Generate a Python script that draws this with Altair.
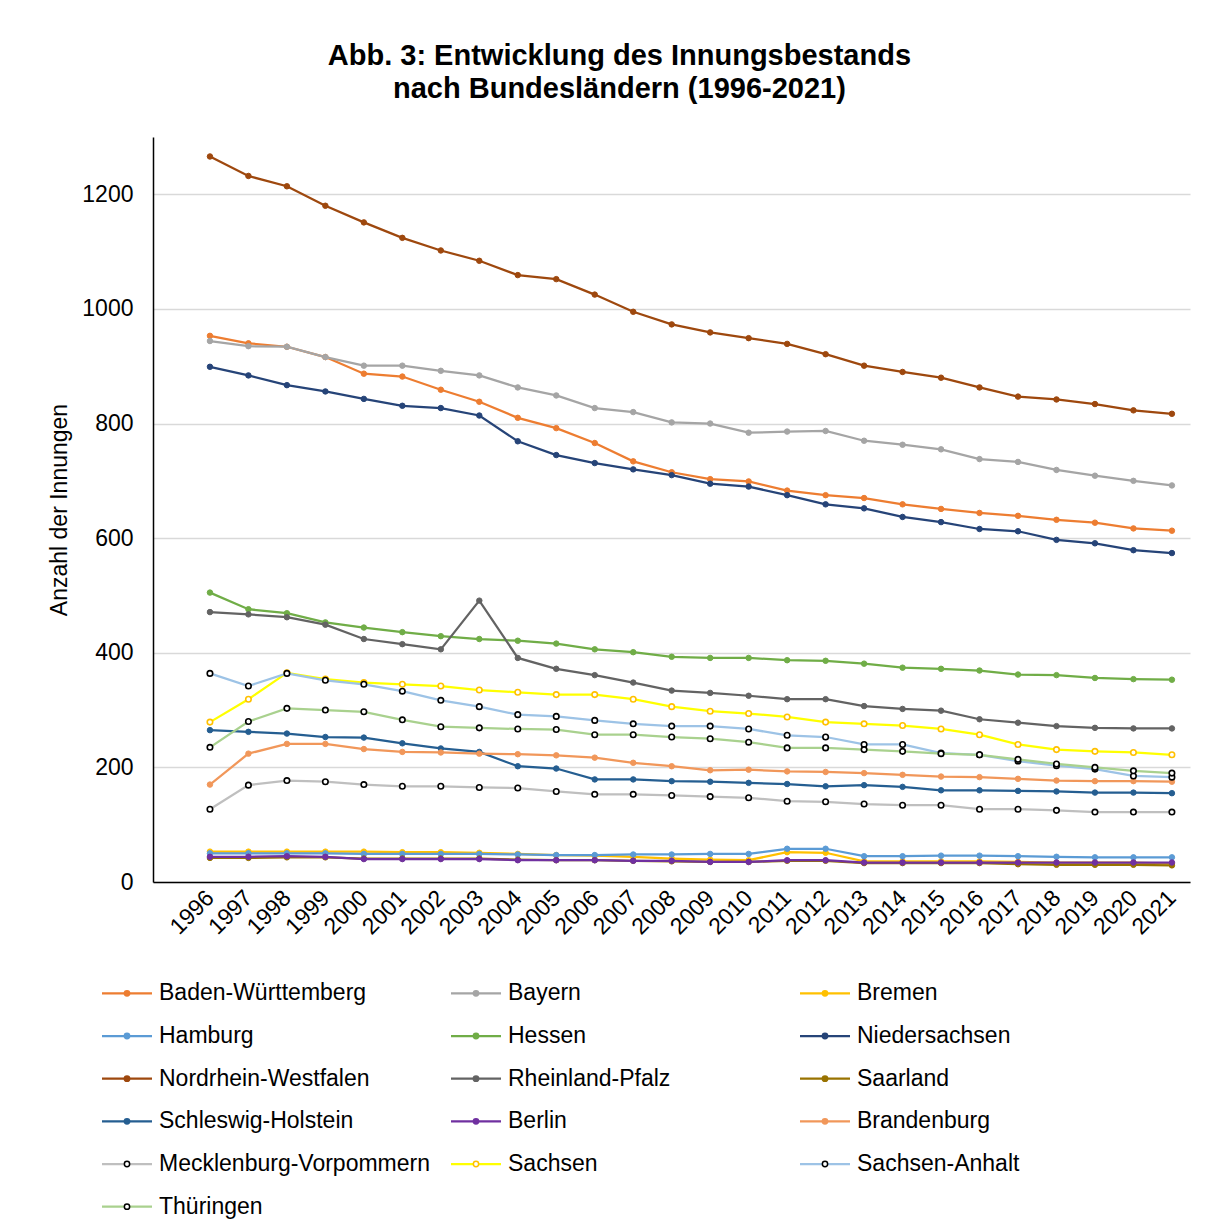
import altair as alt
import pandas as pd

years = list(range(1996, 2022))

states = ["Baden-Württemberg", "Bayern", "Bremen", "Hamburg", "Hessen", "Niedersachsen",
          "Nordrhein-Westfalen", "Rheinland-Pfalz", "Saarland", "Schleswig-Holstein", "Berlin",
          "Brandenburg", "Mecklenburg-Vorpommern", "Sachsen", "Sachsen-Anhalt", "Thüringen"]

bw = [953, 940, 934, 916, 887, 882, 859, 838, 810, 792, 766, 734, 715, 703, 699, 683, 675, 670, 659, 651, 644, 639, 632, 627, 617, 613]
by = [944, 935, 934, 916, 901, 901, 892, 884, 863, 849, 827, 820, 802, 800, 784, 786, 787, 770, 763, 755, 738, 733, 719, 709, 700, 692]
hb = [53, 53, 53, 53, 53, 52, 52, 51, 49, 47, 46, 44, 41, 39, 38, 52, 51, 36, 36, 36, 36, 35, 34, 34, 34, 32]
hh = [50, 50, 50, 50, 49, 49, 49, 49, 48, 47, 47, 48, 48, 49, 49, 58, 58, 45, 45, 46, 46, 45, 44, 43, 43, 43]
he = [505, 476, 469, 453, 444, 436, 429, 424, 421, 416, 406, 401, 393, 391, 391, 387, 386, 381, 374, 372, 369, 362, 361, 356, 354, 353]
ni = [899, 884, 867, 856, 843, 831, 827, 814, 769, 745, 731, 720, 710, 695, 690, 675, 659, 652, 637, 628, 616, 612, 597, 591, 579, 574]
nrw = [1266, 1232, 1214, 1180, 1151, 1124, 1102, 1084, 1059, 1052, 1025, 995, 973, 959, 949, 939, 921, 901, 890, 880, 863, 847, 842, 834, 823, 817]
rp = [471, 467, 462, 449, 424, 415, 406, 491, 391, 372, 361, 348, 334, 330, 325, 319, 319, 307, 302, 299, 284, 278, 272, 269, 268, 268]
sl = [42, 42, 43, 43, 41, 41, 41, 41, 39, 38, 38, 37, 36, 35, 35, 37, 37, 33, 33, 33, 33, 31, 30, 30, 30, 29]
sh = [265, 262, 259, 253, 252, 242, 233, 227, 202, 198, 179, 179, 176, 175, 173, 171, 167, 169, 166, 160, 160, 159, 158, 156, 156, 155]
be = [44, 44, 45, 44, 40, 40, 40, 40, 38, 38, 38, 37, 37, 35, 35, 38, 38, 34, 34, 34, 34, 34, 34, 34, 34, 34]
bb = [170, 224, 241, 241, 232, 227, 226, 224, 223, 221, 217, 208, 202, 195, 196, 193, 192, 190, 187, 184, 183, 180, 177, 176, 176, 175]
mv = [127, 169, 177, 175, 170, 167, 167, 165, 164, 158, 153, 153, 151, 149, 147, 141, 140, 136, 134, 134, 127, 127, 125, 122, 122, 122]
sn = [279, 319, 365, 354, 348, 345, 342, 335, 331, 327, 327, 319, 306, 298, 294, 288, 279, 276, 273, 267, 257, 240, 231, 228, 226, 222]
st = [364, 342, 364, 352, 345, 333, 317, 306, 292, 289, 282, 276, 272, 272, 267, 256, 253, 240, 240, 225, 222, 211, 203, 197, 185, 183]
th = [235, 280, 303, 300, 297, 283, 271, 269, 267, 266, 257, 257, 253, 250, 244, 234, 234, 231, 228, 224, 222, 214, 206, 200, 194, 190]

series = [bw, by, hb, hh, he, ni, nrw, rp, sl, sh, be, bb, mv, sn, st, th]

line_colors = ["#ED7D31", "#A5A5A5", "#FFC000", "#5B9BD5", "#70AD47", "#264478", "#9E480E", "#636363",
               "#997300", "#255E91", "#7030A0", "#F1975A", "#BFBFBF", "#FFFF00", "#9DC3E6", "#A9D18E"]
marker_fill = ["#ED7D31", "#A5A5A5", "#FFC000", "#5B9BD5", "#70AD47", "#264478", "#9E480E", "#636363",
               "#997300", "#255E91", "#7030A0", "#F1975A", "#FFFFFF", "#FFFFFF", "#FFFFFF", "#FFFFFF"]
marker_stroke = ["#ED7D31", "#A5A5A5", "#FFC000", "#5B9BD5", "#70AD47", "#264478", "#9E480E", "#636363",
                 "#997300", "#255E91", "#7030A0", "#F1975A", "#000000", "#FFC000", "#000000", "#000000"]

FONT = "Liberation Sans"

rows = []
for s, vals in zip(states, series):
    for y, v in zip(years, vals):
        rows.append({"Bundesland": s, "Jahr": y, "Anzahl": v})
df = pd.DataFrame(rows)

xscale = alt.Scale(domain=[1994.52, 2021.47], nice=False, zero=False)
yscale = alt.Scale(domain=[0, 1300], nice=False)

layers = []
for i, s in enumerate(states):
    base = alt.Chart(df).transform_filter(alt.datum.Bundesland == s)
    ln = base.mark_line(color=line_colors[i], strokeWidth=2.25).encode(
        x=alt.X("Jahr:Q", scale=xscale,
                axis=alt.Axis(values=years, format="d", labelAngle=-45, labelAlign="right",
                              labelBaseline="middle", labelFontSize=23, labelFont=FONT,
                              labelColor="#000000", grid=False, ticks=False, domainColor="#000000",
                              domainWidth=1.5, labelPadding=12, title=None, labelOverlap=False,
                              labelFlush=False)),
        y=alt.Y("Anzahl:Q", scale=yscale,
                axis=alt.Axis(values=[0, 200, 400, 600, 800, 1000, 1200], format="d",
                              labelFontSize=23, labelFont=FONT, labelColor="#000000",
                              gridColor="#D9D9D9", gridWidth=1.5, ticks=False,
                              domainColor="#000000", domainWidth=1.5,
                              labelPadding=20, title="Anzahl der Innungen", titleFont=FONT,
                              titleFontSize=23, titleFontWeight="normal", titleColor="#000000",
                              titlePadding=10)),
    )
    pt = base.mark_point(filled=False, fill=marker_fill[i], stroke=marker_stroke[i],
                         strokeWidth=1.6 if marker_fill[i] == "#FFFFFF" else 1,
                         size=30, opacity=1, shape="circle").encode(
        x=alt.X("Jahr:Q", scale=xscale), y=alt.Y("Anzahl:Q", scale=yscale))
    layers += [ln, pt]

main = alt.layer(*layers).properties(width=1037, height=745)

# legend built from the state list
leg_rows = []
for i, s in enumerate(states):
    col = i % 3
    r = i // 3
    x0 = col * 349 - 51
    leg_rows.append({"Bundesland": s, "x0": x0, "x1": x0 + 50, "xm": x0 + 25, "xt": x0 + 57,
                     "row": r, "lc": line_colors[i], "mf": marker_fill[i], "ms": marker_stroke[i]})
ldf = pd.DataFrame(leg_rows)

lx = alt.Scale(domain=[0, 1000], range=[0, 1000], nice=False, zero=False)
ly = alt.Scale(domain=[-0.5, 5.5], range=[0, 256], nice=False, zero=False)

lbase = alt.Chart(ldf)
lline = lbase.mark_rule(strokeWidth=2.25).encode(
    x=alt.X("x0:Q", scale=lx, axis=None), x2="x1:Q",
    y=alt.Y("row:Q", scale=ly, axis=None),
    color=alt.Color("lc:N", scale=None))
lpt = lbase.mark_point(filled=False, size=28, opacity=1, shape="circle", strokeWidth=1.5).encode(
    x=alt.X("xm:Q", scale=lx, axis=None), y=alt.Y("row:Q", scale=ly, axis=None),
    fill=alt.Fill("mf:N", scale=None), stroke=alt.Stroke("ms:N", scale=None))
ltxt = lbase.mark_text(align="left", baseline="middle", fontSize=23, font=FONT, color="#000000").encode(
    x=alt.X("xt:Q", scale=lx, axis=None), y=alt.Y("row:Q", scale=ly, axis=None),
    text="Bundesland:N")
legend = alt.layer(lline, lpt, ltxt).properties(width=1000, height=256)

chart = alt.vconcat(main, legend, spacing=33).properties(
    title=alt.Title(["Abb. 3: Entwicklung des Innungsbestands", "nach Bundesländern (1996-2021)"],
                    font=FONT, fontSize=29, fontWeight="bold", color="#000000", anchor="middle",
                    lineHeight=33, offset=33),
    padding={"left": 48, "top": 42, "right": 10, "bottom": 0},
    background="white",
).configure_view(stroke=None)

chart.save("out.html", embed_options={"renderer": "svg", "actions": False})
